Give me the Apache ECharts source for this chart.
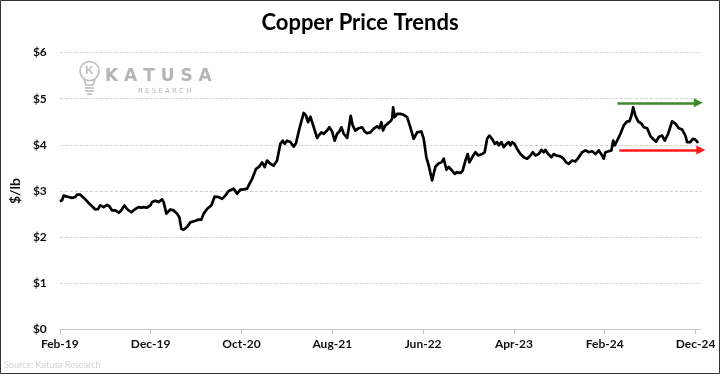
<!DOCTYPE html>
<html><head><meta charset="utf-8">
<script src="https://cdn.jsdelivr.net/npm/echarts@6/dist/echarts.min.js"></script>
<style>html,body{margin:0;padding:0;background:#fff}#c{width:720px;height:374px}</style>
</head><body><div id="c"></div>
<script>
// Months since Feb-2019 (fractional) and copper price ($/lb)
const monthsSinceFeb2019 = [0,0.24,0.42,0.61,0.97,1.34,1.52,1.71,1.89,2.26,2.44,2.81,3.17,3.55,3.91,4.21,4.46,4.82,5.20,5.45,5.75,6.11,6.48,6.77,7.10,7.40,7.87,8.31,8.68,8.98,9.23,9.60,9.97,10.15,10.52,10.88,11.26,11.43,11.73,12.17,12.53,12.91,13.16,13.38,13.63,14.01,14.37,14.85,15.03,15.29,15.58,15.84,16.21,16.69,17.05,17.49,17.86,18.22,18.59,19.14,19.33,19.52,19.88,20.13,20.35,20.62,20.79,21.17,21.61,21.97,22.27,22.56,22.82,23.18,23.55,23.92,24.28,24.54,24.76,25.02,25.39,25.75,26.01,26.38,26.67,26.85,27.11,27.33,27.59,27.78,28.00,28.33,28.50,28.80,29.05,29.43,29.68,29.98,30.26,30.53,30.78,31.00,31.26,31.63,31.81,32.03,32.25,32.54,32.91,33.28,33.57,33.83,34.20,34.56,34.93,35.19,35.41,35.59,35.85,36.15,36.40,36.59,36.70,36.87,37.14,37.50,37.86,38.24,38.60,38.96,39.34,39.81,40.07,40.36,40.62,40.99,41.35,41.65,42.01,42.27,42.57,42.82,43.19,43.48,43.74,44.11,44.36,44.66,44.91,45.10,45.40,45.76,46.06,46.50,46.78,47.05,47.30,47.60,47.89,48.15,48.33,48.62,48.88,49.17,49.43,49.61,49.80,50.06,50.35,50.72,51.08,51.45,51.82,52.07,52.37,52.73,53.03,53.28,53.47,53.77,54.13,54.38,54.68,55.12,55.48,55.75,56.04,56.41,56.77,57.14,57.51,57.87,58.24,58.61,58.98,59.34,59.71,59.89,60.08,60.44,60.74,60.93,61.10,61.37,61.73,62.09,62.47,62.72,62.94,63.13,63.38,63.68,64.04,64.30,64.67,65.03,65.40,65.66,65.95,66.32,66.61,66.98,67.42,67.79,68.15,68.52,68.88,69.07,69.44,69.70,69.99,70.29];
const copperPrice = [2.78,2.80,2.90,2.92,2.87,2.85,2.89,2.87,2.92,2.92,2.90,2.82,2.74,2.67,2.60,2.61,2.69,2.65,2.70,2.67,2.58,2.58,2.53,2.58,2.69,2.61,2.54,2.61,2.65,2.64,2.65,2.64,2.69,2.76,2.79,2.76,2.82,2.76,2.51,2.60,2.58,2.51,2.43,2.18,2.16,2.22,2.32,2.35,2.32,2.38,2.38,2.51,2.61,2.69,2.88,2.87,2.83,2.90,3.00,3.05,3.01,2.94,3.03,3.03,3.07,3.05,3.12,3.26,3.48,3.53,3.62,3.52,3.66,3.59,3.55,3.66,4.02,4.09,4.02,4.09,4.06,3.96,4.04,4.35,4.56,4.69,4.63,4.49,4.61,4.49,4.51,4.15,4.20,4.27,4.24,4.31,4.38,4.29,4.09,4.24,4.29,4.38,4.24,4.15,4.35,4.63,4.42,4.31,4.36,4.38,4.29,4.25,4.27,4.35,4.40,4.36,4.49,4.31,4.42,4.47,4.51,4.56,4.81,4.60,4.67,4.67,4.65,4.60,4.38,4.13,4.27,4.29,4.13,3.73,3.55,3.23,3.52,3.59,3.62,3.70,3.46,3.52,3.44,3.37,3.41,3.39,3.44,3.66,3.80,3.62,3.73,3.84,3.77,3.80,3.84,4.13,4.20,4.13,4.02,4.06,3.99,4.06,3.95,4.02,4.06,3.99,4.06,4.02,3.91,3.80,3.73,3.70,3.77,3.84,3.77,3.80,3.89,3.84,3.89,3.80,3.73,3.80,3.77,3.75,3.70,3.62,3.59,3.66,3.64,3.73,3.84,3.88,3.84,3.86,3.80,3.88,3.77,3.70,3.84,3.86,3.88,4.09,3.99,4.09,4.24,4.42,4.51,4.51,4.63,4.81,4.63,4.51,4.46,4.38,4.36,4.19,4.11,4.07,4.17,4.20,4.09,4.24,4.51,4.46,4.36,4.33,4.20,4.06,4.06,4.13,4.11,4.04];
const xTickMonths = [0,10,20,30,40,50,60,70];
const xTickLabels = ['Feb-19','Dec-19','Oct-20','Aug-21','Jun-22','Apr-23','Feb-24','Dec-24'];
const yTicks = [0,1,2,3,4,5,6];
// Annotation arrows: [startMonth, endMonth, level]
const resistanceArrow = [61.4, 70.3, 4.91];
const supportArrow = [61.6, 70.58, 3.89];

const FONT = 'Lato, "Open Sans", sans-serif';
const chart = echarts.init(document.getElementById('c'), null, {renderer: 'canvas'});
const seriesData = monthsSinceFeb2019.map((m, i) => [m, copperPrice[i]]);

chart.setOption({
  animation: false,
  backgroundColor: '#fff',
  title: {
    text: 'Copper Price Trends', left: 'center', top: 7,
    textStyle: {fontFamily: FONT, fontWeight: 'bold', fontSize: 22, color: '#000'}
  },
  grid: {left: 59.5, right: 19, top: 52.5, bottom: 44.5},
  xAxis: {
    type: 'value', min: 0, max: 70.6, interval: 10,
    axisLine: {show: true, lineStyle: {color: '#c8c8c8', width: 1}},
    axisTick: {show: true, length: 5, lineStyle: {color: '#c8c8c8'}, customValues: xTickMonths},
    splitLine: {show: false},
    axisLabel: {
      customValues: xTickMonths, margin: 9,
      fontFamily: FONT, fontWeight: 'bold', fontSize: 12, color: '#111',
      formatter: v => { const i = xTickMonths.indexOf(Math.round(v)); return i >= 0 ? xTickLabels[i] : ''; }
    }
  },
  yAxis: {
    type: 'value', min: yTicks[0], max: yTicks[yTicks.length - 1], interval: 1,
    name: '$/lb', nameLocation: 'middle', nameGap: 33,
    nameTextStyle: {fontFamily: FONT, fontWeight: 'bold', fontSize: 14, color: '#111'},
    axisLine: {show: false}, axisTick: {show: false},
    splitLine: {show: true, lineStyle: {color: '#cfcfcf', type: [3, 2], width: 1}},
    axisLabel: {margin: 13, fontFamily: FONT, fontWeight: 'bold', fontSize: 12, color: '#111', formatter: v => '$' + v}
  },
  series: [{
    type: 'line', data: seriesData, showSymbol: false, clip: false,
    lineStyle: {color: '#000', width: 2.7, join: 'round'},
    markLine: {
      silent: true, symbol: ['none', 'triangle'], symbolSize: [9, 9],
      label: {show: false},
      data: [
        [{coord: [resistanceArrow[0], resistanceArrow[2]], lineStyle: {color: '#3d8a2a', width: 2.5, type: 'solid'}, itemStyle: {color: '#3d8a2a'}},
         {coord: [resistanceArrow[1], resistanceArrow[2]]}],
        [{coord: [supportArrow[0], supportArrow[2]], lineStyle: {color: '#ff1a1a', width: 2.5, type: 'solid'}, itemStyle: {color: '#ff1a1a'}},
         {coord: [supportArrow[1], supportArrow[2]]}]
      ]
    }
  }],
  graphic: [
    {type: 'rect', shape: {x: 0.5, y: 0.5, width: 719, height: 373}, style: {fill: 'none', stroke: '#333', lineWidth: 1}, z: 100},
    // logo watermark
    {type: 'circle', shape: {cx: 89.5, cy: 71, r: 9.5}, style: {fill: 'none', stroke: '#bdbdbd', lineWidth: 1.6}},
    {type: 'text', left: 85, top: 64, style: {text: 'K', font: 'bold 12px ' + FONT, fill: '#bdbdbd'}},
    {type: 'polyline', shape: {points: [[84, 79], [86, 85], [93, 85], [95, 79]]}, style: {fill: 'none', stroke: '#bdbdbd', lineWidth: 1.6}},
    {type: 'line', shape: {x1: 85, y1: 88, x2: 94, y2: 88}, style: {stroke: '#bdbdbd', lineWidth: 1.6}},
    {type: 'line', shape: {x1: 85, y1: 91, x2: 94, y2: 91}, style: {stroke: '#bdbdbd', lineWidth: 1.6}},
    {type: 'line', shape: {x1: 87, y1: 94, x2: 92, y2: 94}, style: {stroke: '#bdbdbd', lineWidth: 1.6}},
    {type: 'text', left: 105, top: 68, style: {text: 'K A T U S A', font: 'bold 17px "DejaVu Sans", sans-serif', fill: '#b5b5b5'}},
    {type: 'text', left: 138, top: 88, style: {text: 'R E S E A R C H', font: '7px "DejaVu Sans", sans-serif', fill: '#b5b5b5'}},
    // source
    {type: 'text', left: 4, top: 361, style: {text: 'Source: Katusa Research', font: '9px ' + FONT, fill: '#d2d2d2'}}
  ]
});
</script></body></html>
